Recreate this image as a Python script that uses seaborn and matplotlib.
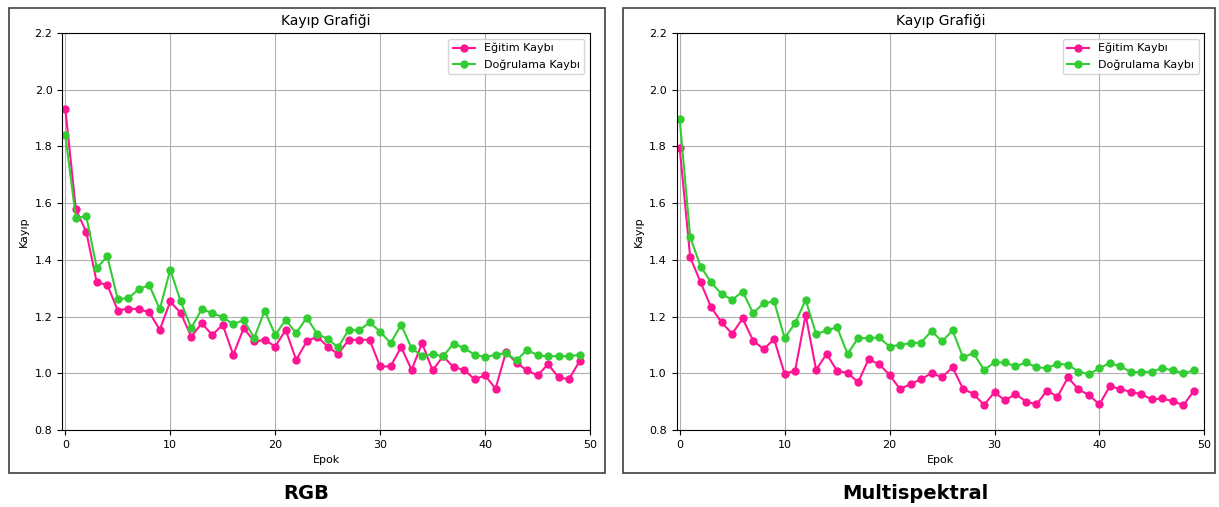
import numpy as np
import pandas as pd
import seaborn as sns
import matplotlib.pyplot as plt
from matplotlib.patches import Rectangle

# RGB paneli
rgb_egitim = [1.932, 1.579, 1.498, 1.320, 1.312, 1.221, 1.228, 1.226, 1.215, 1.153,
              1.253, 1.212, 1.129, 1.176, 1.135, 1.171, 1.065, 1.159, 1.112, 1.118,
              1.094, 1.153, 1.047, 1.112, 1.129, 1.094, 1.067, 1.118, 1.118, 1.118,
              1.024, 1.024, 1.092, 1.012, 1.106, 1.010, 1.060, 1.021, 1.012, 0.979,
              0.992, 0.946, 1.075, 1.036, 1.010, 0.992, 1.032, 0.985, 0.979, 1.042]
rgb_dogrulama = [1.841, 1.549, 1.553, 1.371, 1.412, 1.261, 1.265, 1.296, 1.311, 1.226,
                 1.365, 1.253, 1.159, 1.226, 1.212, 1.198, 1.172, 1.188, 1.124, 1.221,
                 1.135, 1.188, 1.141, 1.196, 1.139, 1.121, 1.091, 1.153, 1.151, 1.179,
                 1.147, 1.106, 1.171, 1.088, 1.061, 1.067, 1.060, 1.104, 1.089, 1.065,
                 1.057, 1.065, 1.071, 1.045, 1.083, 1.063, 1.060, 1.060, 1.060, 1.065]

# Multispektral paneli
ms_egitim = [1.794, 1.409, 1.320, 1.232, 1.179, 1.139, 1.193, 1.115, 1.085, 1.120,
             0.998, 1.009, 1.206, 1.012, 1.068, 1.008, 1.002, 0.968, 1.049, 1.032,
             0.994, 0.944, 0.962, 0.979, 1.000, 0.986, 1.021, 0.945, 0.927, 0.888,
             0.933, 0.904, 0.927, 0.900, 0.890, 0.939, 0.917, 0.985, 0.943, 0.923,
             0.890, 0.955, 0.943, 0.935, 0.925, 0.908, 0.911, 0.901, 0.887, 0.938]
ms_dogrulama = [1.896, 1.480, 1.376, 1.320, 1.279, 1.259, 1.288, 1.212, 1.247, 1.253,
                1.124, 1.176, 1.259, 1.138, 1.151, 1.162, 1.068, 1.124, 1.124, 1.126,
                1.094, 1.100, 1.106, 1.108, 1.149, 1.112, 1.151, 1.056, 1.071, 1.012,
                1.038, 1.038, 1.024, 1.038, 1.021, 1.018, 1.033, 1.030, 1.006, 0.996,
                1.018, 1.036, 1.024, 1.004, 1.004, 1.006, 1.018, 1.010, 1.000, 1.010]

epoklar = list(range(50))
etiketler = ["Eğitim Kaybı", "Doğrulama Kaybı"]
renkler = {"Eğitim Kaybı": "#ff1493", "Doğrulama Kaybı": "#32cd32"}
basliklar = ["RGB", "Multispektral"]

plt.rcParams['font.family'] = ['DejaVu Sans']

fig = plt.figure(figsize=(12.19, 5.07), dpi=100)

paneller = [(rgb_egitim, rgb_dogrulama), (ms_egitim, ms_dogrulama)]
sol_kenar = [0.051, 0.555]
cerceve = [(0.007, 0.489), (0.511, 0.486)]
alt_yazi_x = [0.251, 0.751]

for i, (egitim, dogrulama) in enumerate(paneller):
    # panel cercevesi
    fig.patches.append(Rectangle((cerceve[i][0], 0.067), cerceve[i][1], 0.917,
                                 transform=fig.transFigure, fill=False,
                                 edgecolor="#404040", linewidth=1.2))
    ax = fig.add_axes([sol_kenar[i], 0.152, 0.433, 0.783])
    df = pd.DataFrame({
        "Epok": epoklar + epoklar,
        "Kayıp": egitim + dogrulama,
        "Seri": [etiketler[0]] * 50 + [etiketler[1]] * 50,
    })
    sns.lineplot(data=df, x="Epok", y="Kayıp", hue="Seri", palette=renkler,
                 marker="o", markersize=6, markeredgewidth=0, linewidth=1.5, ax=ax)
    ax.set_xlim(-0.3, 50)
    ax.set_ylim(0.8, 2.2)
    ax.set_xticks([0, 10, 20, 30, 40, 50])
    ax.set_yticks([0.8, 1.0, 1.2, 1.4, 1.6, 1.8, 2.0, 2.2])
    ax.grid(True, color="#b0b0b0", linewidth=0.8)
    ax.tick_params(labelsize=8)
    ax.set_title("Kayıp Grafiği", fontsize=10)
    ax.set_xlabel("Epok", fontsize=8)
    ax.set_ylabel("Kayıp", fontsize=8)
    ax.legend(loc="upper right", fontsize=8, title=None)
    fig.text(alt_yazi_x[i], 0.027, basliklar[i], ha="center", va="center",
             fontsize=14, fontweight="bold")

plt.savefig("out.png", dpi=100)
plt.close()
